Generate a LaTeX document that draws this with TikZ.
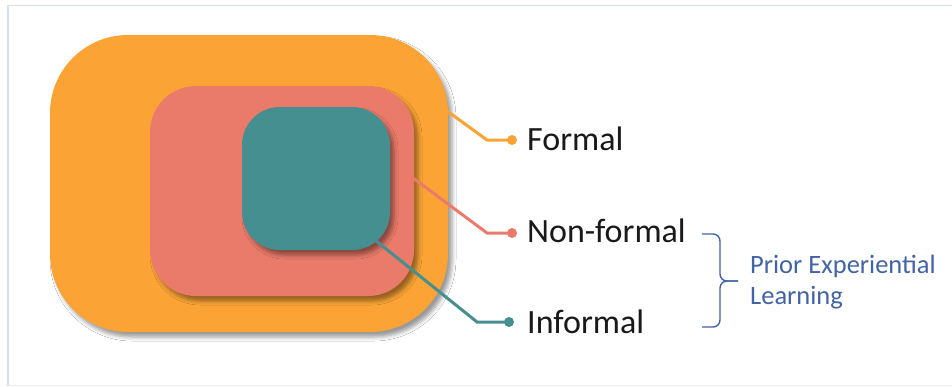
\documentclass[tikz,border=0pt]{standalone}
\usepackage{fontspec}
\setmainfont{Carlito}
\usetikzlibrary{shadows.blur}
\definecolor{orangeA}{HTML}{FBA435}
\definecolor{salmonA}{HTML}{EA7B6A}
\definecolor{tealA}{HTML}{468F91}
\definecolor{braceblue}{HTML}{4263A5}
\definecolor{frameblue}{HTML}{D5DFF2}
\begin{document}
\begin{tikzpicture}[x=1pt,y=-1pt,
  layer/.style={rectangle, inner sep=0pt, outer sep=0pt, draw=none,
    blur shadow={shadow xshift=4pt, shadow yshift=-5pt, shadow blur radius=4pt, shadow opacity=40}},
  link/.style={line width=3pt},
  dot/.style={circle, inner sep=0pt, minimum size=10pt},
  label/.style={anchor=west, inner sep=0pt, font=\fontsize{34}{40}\selectfont, text=black!90},
  note/.style={anchor=west, align=left, inner sep=0pt, text=braceblue,
    font=\fontsize{26.5}{31}\selectfont}]
\useasboundingbox (0,0) rectangle (952,386);
\fill[white] (0,0) rectangle (952,386);
% screen frame
\draw[frameblue, line width=1.5pt] (8,386) -- (8,5.5) -- (952,5.5);
\draw[black!8, line width=1pt] (8,385.5) -- (952,385.5);

% nested learning areas
\node[layer, fill=orangeA, rounded corners=78pt, minimum width=398pt, minimum height=297pt]
  (formal) at (249,183.5) {};
\node[layer, fill=salmonA, rounded corners=46pt, minimum width=264pt, minimum height=210pt]
  (nonformal) at (282,191) {};
\node[layer, fill=tealA, rounded corners=38pt, minimum width=148pt, minimum height=143pt]
  (informal) at (316,178.5) {};

% connector start points on the area borders
\coordinate (fStart) at (443,108);
\coordinate (nStart) at (413,178);
\coordinate (iStart) at (375,240);

% end dots
\node[dot, fill=orangeA] (fDot) at (512,140) {};
\node[dot, fill=salmonA] (nDot) at (512,233) {};
\node[dot, fill=tealA] (iDot) at (509,322) {};

% connectors
\draw[link, orangeA] (fStart) -- (487,140) -- (fDot.center);
\draw[link, salmonA] (nStart) -- (487,233) -- (nDot.center);
\draw[link, tealA] (iStart) -- (477,322) -- (iDot.center);

% labels
\node[label] (fLab) at (527,139) {Formal};
\node[label] (nLab) at (527,231) {Non-formal};
\node[label] (iLab) at (527,322) {Informal};

% brace grouping the last two
\coordinate (bTop) at (702,234);
\coordinate (bTip) at (738,281);
\coordinate (bBot) at (702,327);
\draw[braceblue, line width=1.4pt, rounded corners=7pt]
  (bTop) -- (720,234) -- (720,281) -- (bTip);
\draw[braceblue, line width=1.4pt, rounded corners=7pt]
  (bTip) -- (720,281) -- (720,327) -- (bBot);
\node[note] (prior) at (750,282) {Prior Experiential\\Learning};
\end{tikzpicture}
\end{document}
